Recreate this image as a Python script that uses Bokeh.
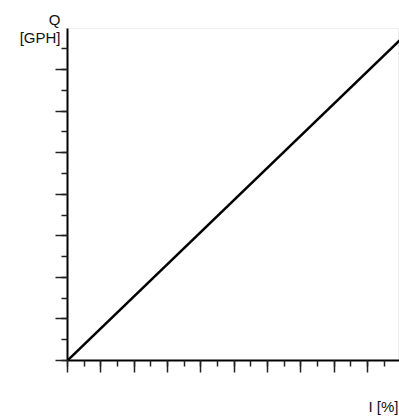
from bokeh.plotting import figure
from bokeh.models import Range1d, SingleIntervalTicker
from bokeh.embed import file_html
from bokeh.resources import INLINE

# data
flow_x = [0, 100]      # I [%]
flow_y = [0, 77.3]     # Q [GPH]
x_label = "I [%]"
y_label = "Q\n[GPH]"

p = figure(width=399, height=418, output_backend="svg", toolbar_location=None,
           x_range=Range1d(0, 99.6), y_range=Range1d(0, 79.9),
           min_border_left=67, min_border_right=0, min_border_top=28, min_border_bottom=58)
p.background_fill_color = "white"
p.border_fill_color = "white"
p.outline_line_color = "#eeeeee"
p.xgrid.visible = False
p.ygrid.visible = False

for ax, tk in ((p.xaxis[0], SingleIntervalTicker(interval=10, num_minor_ticks=2)),
               (p.yaxis[0], SingleIntervalTicker(interval=10, num_minor_ticks=2))):
    ax.ticker = tk
    ax.axis_line_width = 2
    ax.axis_line_color = "black"
    ax.major_tick_out = 12
    ax.major_tick_in = 0
    ax.minor_tick_out = 6
    ax.minor_tick_in = 0
    ax.major_tick_line_width = 1.5
    ax.minor_tick_line_width = 1.5
    ax.major_tick_line_color = "#222222"
    ax.minor_tick_line_color = "#222222"
    ax.major_label_text_font_size = "0px"
    ax.major_label_text_color = None
    ax.axis_label_text_font = "Liberation Sans"
    ax.axis_label_text_font_style = "normal"
    ax.axis_label_text_font_size = "15px"
    ax.axis_label_text_color = "#111111"

# x label sits at the right end of the axis (padded so the box stays on the canvas)
p.xaxis[0].axis_label = "\u00a0" * 72 + x_label
p.xaxis[0].axis_label_align = "center"
p.xaxis[0].axis_label_standoff = 25
p.yaxis[0].axis_label = y_label
p.yaxis[0].axis_label_orientation = "horizontal"
p.yaxis[0].axis_label_align = "end"
p.yaxis[0].axis_label_standoff = -5
p.yaxis[0].axis_label_text_line_height = 1.1

p.line(flow_x, flow_y, line_color="black", line_width=2.5)

open("out.html", "w").write(file_html(p, INLINE))
